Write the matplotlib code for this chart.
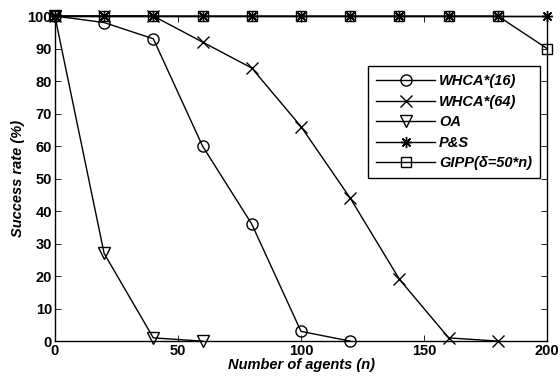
import matplotlib
matplotlib.use("Agg")
import matplotlib.pyplot as plt

plt.rcParams['font.family'] = ['Liberation Sans', 'DejaVu Sans']

x_whca16 = [0, 20, 40, 60, 80, 100, 120]
y_whca16 = [100, 98, 93, 60, 36, 3, 0]
x_whca64 = [0, 20, 40, 60, 80, 100, 120, 140, 160, 180]
y_whca64 = [100, 100, 100, 92, 84, 66, 44, 19, 1, 0]
x_oa = [0, 20, 40, 60]
y_oa = [100, 27, 1, 0]
x_ps = [0, 20, 40, 60, 80, 100, 120, 140, 160, 180, 200]
y_ps = [100] * 11
x_gipp = [0, 20, 40, 60, 80, 100, 120, 140, 160, 180, 200]
y_gipp = [100, 100, 100, 100, 100, 100, 100, 100, 100, 100, 90]

labels = ['WHCA*(16)', 'WHCA*(64)', 'OA', 'P&S', 'GIPP(δ=50*n)']
xticks = [0, 50, 100, 150, 200]
yticks = list(range(0, 101, 10))

fig = plt.figure(figsize=(5.6, 3.82), dpi=100)
ax = fig.add_axes([0.098, 0.107, 0.879, 0.851])

kw = dict(color='black', lw=1.0, mfc='none', mec='black', mew=1.0, clip_on=False)
ax.plot(x_whca16, y_whca16, marker='o', ms=8, label=labels[0], **kw)
ax.plot(x_whca64, y_whca64, marker='x', ms=8, label=labels[1], **kw)
ax.plot(x_oa, y_oa, marker='v', ms=8, label=labels[2], **kw)
ax.plot(x_ps, y_ps, marker=(8, 2, 0), ms=8, label=labels[3], **kw)
ax.plot(x_gipp, y_gipp, marker='s', ms=7, label=labels[4], **kw)

ax.set_xlim(0, 200)
ax.set_ylim(0, 100)
ax.set_xticks(xticks)
ax.set_yticks(yticks)
ax.tick_params(direction='in', top=True, right=True, length=4, width=0.6, labelsize=10.5, pad=2)
for t in ax.get_xticklabels() + ax.get_yticklabels():
    t.set_fontweight('bold')
for s in ax.spines.values():
    s.set_linewidth(1.0)

ax.set_xlabel('Number of agents (n)', fontsize=10.5, fontweight='bold', style='italic', labelpad=0)
ax.set_ylabel('Success rate (%)', fontsize=10.5, fontweight='bold', style='italic', labelpad=2)

leg = ax.legend(loc='upper right', bbox_to_anchor=(0.986, 0.846), borderaxespad=0, fancybox=False,
                edgecolor='black', framealpha=1, handlelength=4.0, borderpad=0.55,
                labelspacing=0.45, handletextpad=0.3,
                prop={'size': 10.5, 'weight': 'bold', 'style': 'italic'})
leg.get_frame().set_linewidth(1.0)

fig.savefig('out.png', dpi=100)
